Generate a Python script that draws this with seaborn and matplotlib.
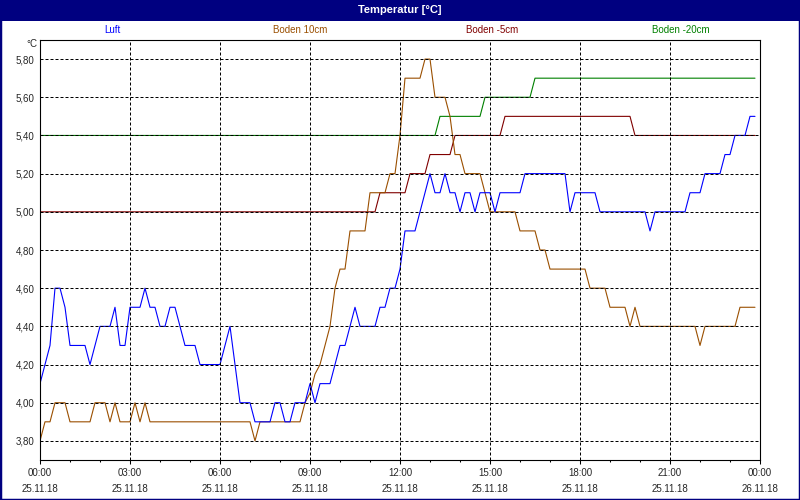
import matplotlib
matplotlib.use("Agg")
import matplotlib.pyplot as plt
import matplotlib.ticker as mticker
from matplotlib.patches import Rectangle
import seaborn as sns
import pandas as pd

# minutes since 00:00 on 25.11.18 (10 min sampling), breakpoints of each curve
luft_min = [0, 10, 20, 30, 40, 50, 60, 90, 100, 110, 120, 140, 150, 160, 170, 180,
            200, 210, 220, 230, 240, 250, 260, 270, 280, 290, 310, 320, 360, 370, 380,
            390, 400, 420, 430, 460, 470, 480, 490, 500, 510, 530, 540, 550, 560, 580,
            590, 600, 610, 620, 630, 640, 670, 680, 690, 700, 710, 720, 730, 750, 760,
            770, 780, 790, 800, 810, 820, 830, 840, 850, 860, 870, 880, 890, 900, 910,
            920, 960, 970, 1050, 1060, 1070, 1110, 1120, 1210, 1220, 1230, 1290, 1300,
            1320, 1330, 1360, 1370, 1380, 1390, 1410, 1420, 1430]
luft_val = [4.1, 4.2, 4.3, 4.6, 4.6, 4.5, 4.3, 4.3, 4.2, 4.3, 4.4, 4.4, 4.5, 4.3, 4.3, 4.5,
            4.5, 4.6, 4.5, 4.5, 4.4, 4.4, 4.5, 4.5, 4.4, 4.3, 4.3, 4.2, 4.2, 4.3, 4.4,
            4.2, 4.0, 4.0, 3.9, 3.9, 4.0, 4.0, 3.9, 3.9, 4.0, 4.0, 4.1, 4.0, 4.1, 4.1,
            4.2, 4.3, 4.3, 4.4, 4.5, 4.4, 4.4, 4.5, 4.5, 4.6, 4.6, 4.7, 4.9, 4.9, 5.0,
            5.1, 5.2, 5.1, 5.1, 5.2, 5.1, 5.1, 5.0, 5.1, 5.1, 5.0, 5.1, 5.1, 5.1, 5.0,
            5.1, 5.1, 5.2, 5.2, 5.0, 5.1, 5.1, 5.0, 5.0, 4.9, 5.0, 5.0, 5.1,
            5.1, 5.2, 5.2, 5.3, 5.3, 5.4, 5.4, 5.5, 5.5]

b10_min = [0, 10, 20, 30, 50, 60, 100, 110, 130, 140, 150, 160, 180, 190, 200, 210, 220,
           420, 430, 440, 520, 530, 540, 550, 560, 570, 580, 590, 600, 610, 620, 650, 660,
           690, 700, 710, 720, 730, 760, 770, 780, 790, 810, 820, 830, 840, 850, 880, 890,
           900, 950, 960, 990, 1000, 1010, 1020, 1090, 1100, 1130, 1140, 1170, 1180, 1190,
           1200, 1310, 1320, 1330, 1390, 1400, 1430]
b10_val = [3.8, 3.9, 3.9, 4.0, 4.0, 3.9, 3.9, 4.0, 4.0, 3.9, 4.0, 3.9, 3.9, 4.0, 3.9, 4.0, 3.9,
           3.9, 3.8, 3.9, 3.9, 4.0, 4.05, 4.15, 4.2, 4.3, 4.4, 4.6, 4.7, 4.7, 4.9, 4.9, 5.1,
           5.1, 5.2, 5.2, 5.4, 5.7, 5.7, 5.8, 5.8, 5.6, 5.6, 5.5, 5.3, 5.3, 5.2, 5.2, 5.1,
           5.0, 5.0, 4.9, 4.9, 4.8, 4.8, 4.7, 4.7, 4.6, 4.6, 4.5, 4.5, 4.4, 4.5,
           4.4, 4.4, 4.3, 4.4, 4.4, 4.5, 4.5]

b5_min = [0, 670, 680, 730, 740, 770, 780, 820, 830, 920, 930, 1180, 1190, 1430]
b5_val = [5.0, 5.0, 5.1, 5.1, 5.2, 5.2, 5.3, 5.3, 5.4, 5.4, 5.5, 5.5, 5.4, 5.4]

b20_min = [0, 790, 800, 880, 890, 980, 990, 1430]
b20_val = [5.4, 5.4, 5.5, 5.5, 5.6, 5.6, 5.7, 5.7]

series_names = ["Luft", "Boden 10cm", "Boden -5cm", "Boden -20cm"]
series_colors = ["#0000ff", "#9a4f00", "#800000", "#008000"]

x_ticks = [0, 3, 6, 9, 12, 15, 18, 21, 24]
x_labels = ["00:00\n25.11.18", "03:00\n25.11.18", "06:00\n25.11.18", "09:00\n25.11.18",
            "12:00\n25.11.18", "15:00\n25.11.18", "18:00\n25.11.18", "21:00\n25.11.18",
            "00:00\n26.11.18"]
y_ticks = [3.8, 4.0, 4.2, 4.4, 4.6, 4.8, 5.0, 5.2, 5.4, 5.6, 5.8]

sns.set_style("white")
plt.rcParams['font.family'] = ['Liberation Sans', 'DejaVu Sans']

fig = plt.figure(figsize=(8, 5), dpi=100)
fig.patch.set_facecolor("white")

# title bar
fig.patches.append(Rectangle((0, 1 - 21 / 500), 1, 21 / 500, transform=fig.transFigure,
                             facecolor="#000080", edgecolor="none", zorder=0))
fig.text(0.5, 1 - 10 / 500, "Temperatur [°C]", color="white", fontsize=8,
         fontweight="bold", ha="center", va="center")
# outer frame
fig.patches.append(Rectangle((0, 0), 1, 1, transform=fig.transFigure, fill=False,
                             edgecolor="#000080", linewidth=2.5, zorder=5))

ax = fig.add_axes([40 / 800, 1 - 460 / 500, 720 / 800, 420 / 500])

all_min = [b20_min, b5_min, b10_min, luft_min]
all_val = [b20_val, b5_val, b10_val, luft_val]
# draw in reverse so Luft ends up on top
for name, color, mins, vals in zip(series_names[::-1], series_colors[::-1], all_min, all_val):
    df = pd.DataFrame({"hour": [m / 60 for m in mins], "temp": vals})
    sns.lineplot(data=df, x="hour", y="temp", color=color, linewidth=0.8,
                 ax=ax, legend=False, estimator=None)

ax.set_xlim(0, 24)
ax.set_ylim(3.70, 5.90)
ax.set_xlabel("")
ax.set_ylabel("")

ax.set_xticks(x_ticks)
ax.set_xticklabels(x_labels, fontsize=7, linespacing=1.75)
ax.xaxis.set_minor_locator(mticker.MultipleLocator(1))
ax.set_yticks(y_ticks)
ax.set_yticklabels([f"{v:.2f}".replace(".", ",") for v in y_ticks], fontsize=7)

ax.tick_params(axis="x", which="major", direction="out", length=3, width=0.75,
               color="black", pad=3, bottom=True)
ax.tick_params(axis="x", which="minor", direction="out", length=1.6, width=0.75,
               color="black", bottom=True)
ax.tick_params(axis="y", length=0, pad=4)

for s in ax.spines.values():
    s.set_visible(True)
    s.set_color("black")
    s.set_linewidth(0.8)

ax.set_axisbelow(False)
ax.grid(True, which="major", color="black", linestyle=(0, (3, 2)), linewidth=0.72)

fig.text(37 / 800, 1 - 44 / 500, "°C", fontsize=7, ha="right", va="center")

legend_x = [112, 300, 492, 681]
for name, color, lx in zip(series_names, series_colors, legend_x):
    fig.text(lx / 800, 1 - 30 / 500, name, color=color, fontsize=7,
             ha="center", va="center")

fig.savefig("out.png", dpi=100)
